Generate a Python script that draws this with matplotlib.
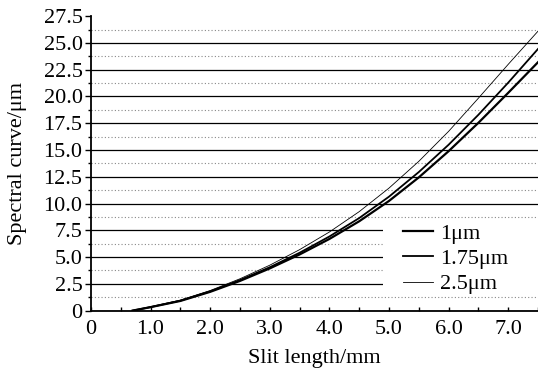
import matplotlib
matplotlib.use("Agg")
import matplotlib.pyplot as plt
from matplotlib.patches import Rectangle
from matplotlib.ticker import MultipleLocator

plt.rcParams['font.family'] = ['Liberation Serif', 'DejaVu Serif']

# longitud de rendija (mm)
slit = [0.7, 1.0, 1.5, 2.0, 2.5, 3.0, 3.5, 4.0, 4.5, 5.0, 5.5, 6.0, 6.5, 7.0, 7.5]

# curvas espectrales (um) para cada longitud de onda
curva_1 = [0, 0.32, 0.9, 1.75, 2.77, 3.94, 5.24, 6.69, 8.34, 10.24, 12.44, 14.89, 17.54, 20.34, 23.2]
curva_175 = [0, 0.33, 0.93, 1.8, 2.85, 4.05, 5.4, 6.92, 8.64, 10.64, 12.94, 15.49, 18.29, 21.29, 24.44]
curva_25 = [0, 0.35, 0.97, 1.87, 2.97, 4.24, 5.69, 7.34, 9.24, 11.44, 13.94, 16.74, 19.84, 23.0, 26.1]

etiquetas = ["1μm", "1.75μm", "2.5μm"]
y_ticks = [0, 2.5, 5.0, 7.5, 10.0, 12.5, 15.0, 17.5, 20.0, 22.5, 25.0, 27.5]
y_labels = ["0", "2.5", "5.0", "7.5", "10.0", "12.5", "15.0", "17.5", "20.0", "22.5", "25.0", "27.5"]
x_ticks = [0, 1, 2, 3, 4, 5, 6, 7]
x_labels = ["0", "1.0", "2.0", "3.0", "4.0", "5.0", "6.0", "7.0"]

fig = plt.figure(figsize=(5.38, 3.68), dpi=100)
ax = fig.add_axes([0.169, 0.156, 0.831, 0.80])

ax.plot(slit, curva_1, color='black', lw=1.6, label=etiquetas[0], zorder=3)
ax.plot(slit, curva_175, color='black', lw=1.3, label=etiquetas[1], zorder=3)
ax.plot(slit, curva_25, color='black', lw=0.6, label=etiquetas[2], zorder=3)

ax.set_xlim(0, 7.5)
ax.set_ylim(0, 27.5)
ax.set_xticks(x_ticks)
ax.set_xticklabels(x_labels)
ax.set_yticks(y_ticks)
ax.set_yticklabels(y_labels)
ax.xaxis.set_minor_locator(MultipleLocator(0.5))
ax.yaxis.set_minor_locator(MultipleLocator(1.25))

ax.grid(True, axis='y', which='major', color='black', lw=0.9, ls='-')
ax.grid(True, axis='y', which='minor', color='#888888', lw=0.8, ls=(0, (1, 2)))
# sin linea de cuadricula en 27.5
ax.yaxis.get_gridlines()[-1].set_visible(False)

ax.tick_params(axis='x', which='both', direction='in', length=3, width=1, labelsize=16, pad=7)
ax.tick_params(axis='y', which='major', direction='out', length=4, width=1, labelsize=16, pad=2)
ax.tick_params(axis='y', which='minor', direction='out', length=2, width=1)

for lado in ['top', 'right']:
    ax.spines[lado].set_visible(False)
for lado in ['left', 'bottom']:
    ax.spines[lado].set_linewidth(1.3)

ax.set_xlabel("Slit length/mm", fontsize=16, labelpad=7)
ax.set_ylabel("Spectral curve/μm", fontsize=16, labelpad=12)

# fondo blanco de la leyenda que tapa la cuadricula
ax.add_patch(Rectangle((0.653, 0.06), 0.347, 0.24, transform=ax.transAxes,
                       facecolor='white', edgecolor='none', zorder=1.8))
ax.legend(loc='lower left', bbox_to_anchor=(0.698, 0.055), frameon=False, fontsize=16,
          handlelength=1.36, handletextpad=0.3, labelspacing=0.22, borderpad=0,
          borderaxespad=0)

fig.savefig("out.png", dpi=100)
